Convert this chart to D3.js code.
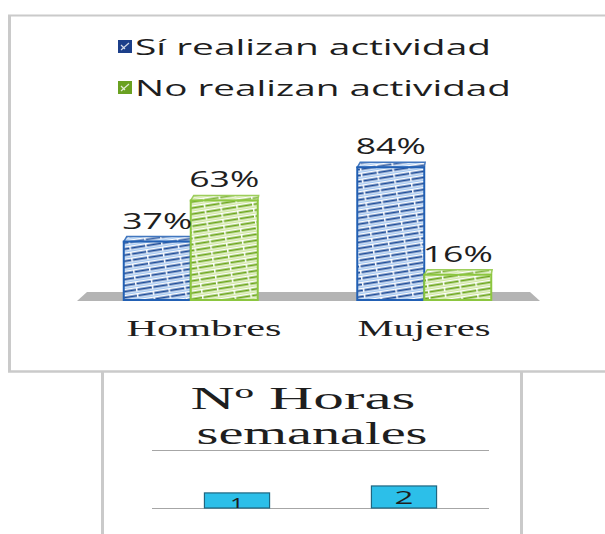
<!DOCTYPE html>
<html>
<head>
<meta charset="utf-8">
<script src="https://cdn.jsdelivr.net/npm/d3@7"></script>
<style>
  html, body { margin: 0; padding: 0; background: #fff; }
  svg { display: block; }
</style>
</head>
<body>
<svg id="chart" width="605" height="534"></svg>
<script>
// ---- data ----
const categories = ["Hombres", "Mujeres"];
const seriesNames = ["Sí realizan actividad", "No realizan actividad"];
const siValues = [37, 84];
const noValues = [63, 16];
const horasTitle = ["Nº Horas", "semanales"];
const horasCategories = ["1", "2"];
const horasValues = [0.26, 0.38];

const svg = d3.select("#chart");
const defs = svg.append("defs");

function makePattern(id, dark, light) {
  const p = defs.append("pattern").attr("id", id)
    .attr("patternUnits", "userSpaceOnUse").attr("width", 16).attr("height", 6)
    .attr("patternTransform", "rotate(-9)");
  p.append("rect").attr("width", 16).attr("height", 6).attr("fill", "#fff");
  p.append("line").attr("x1", 0).attr("x2", 16).attr("y1", 1.5).attr("y2", 1.5)
    .attr("stroke", dark).attr("stroke-width", 1.9).attr("stroke-dasharray", "9,1.5");
  p.append("line").attr("x1", 0).attr("x2", 16).attr("y1", 4.2).attr("y2", 4.2)
    .attr("stroke", light).attr("stroke-width", 1.2);
}
makePattern("patBlue", "#1a4a98", "#8fbbef");
makePattern("patGreen", "#6aa517", "#c6e38a");

const colors = {
  "Sí realizan actividad": { stroke: "#2260b4", pat: "url(#patBlue)", sq: "#1c3f8a" },
  "No realizan actividad": { stroke: "#8cc63f", pat: "url(#patGreen)", sq: "#6aa121" }
};

function stretchedText(g, txt, x, y, len, size, family, anchor) {
  const t = g.append("text").attr("x", x).attr("y", y)
    .attr("font-family", family).attr("font-size", size)
    .attr("fill", "#1e1e1e").attr("text-anchor", anchor || "start")
    .text(txt);
  if (len) t.attr("textLength", len).attr("lengthAdjust", "spacingAndGlyphs");
  return t;
}

// ---- frames ----
const frame = svg.append("g").attr("stroke", "#cacaca").attr("fill", "none");
frame.append("line").attr("x1", 8).attr("x2", 605).attr("y1", 15.5).attr("y2", 15.5).attr("stroke-width", 2);
frame.append("line").attr("x1", 9.5).attr("x2", 9.5).attr("y1", 15).attr("y2", 372).attr("stroke-width", 3);
frame.append("line").attr("x1", 8).attr("x2", 605).attr("y1", 371.5).attr("y2", 371.5).attr("stroke-width", 2.5);
frame.append("line").attr("x1", 102.5).attr("x2", 102.5).attr("y1", 372).attr("y2", 534).attr("stroke-width", 3);
frame.append("line").attr("x1", 521.5).attr("x2", 521.5).attr("y1", 372).attr("y2", 534).attr("stroke-width", 3);

// ---- legend ----
const legend = svg.append("g");
const legendRows = [{ y: 47, len: 356 }, { y: 88, len: 376 }];
seriesNames.forEach((s, i) => {
  const r = legendRows[i];
  legend.append("rect").attr("x", 118).attr("y", r.y - 7).attr("width", 14).attr("height", 13)
    .attr("fill", colors[s].sq);
  legend.append("path")
    .attr("d", `M121,${r.y + 3} L129,${r.y - 4} M121,${r.y - 2} L125,${r.y + 2}`)
    .attr("stroke", "#fff").attr("stroke-width", 1.2).attr("opacity", 0.8);
  stretchedText(legend, s, 135, r.y + 8, r.len, 22, "'Open Sans', sans-serif");
});

// ---- main bar chart ----
const baseY = 300;
const x0 = d3.scaleBand().domain(categories).range([74, 541]).padding(0);
const groupW = 134;
const x1 = d3.scaleBand().domain(seriesNames).range([0, groupW]).padding(0);
const y = d3.scaleLinear().domain([0, 100]).range([baseY, 142]);

svg.append("polygon")
  .attr("points", [[87, 292], [530, 292], [540, 301], [77, 301]].map(p => p.join(",")).join(" "))
  .attr("fill", "#b4b4b4");

const barData = [];
categories.forEach((c, ci) => {
  barData.push({ cat: c, s: seriesNames[0], v: siValues[ci] });
  barData.push({ cat: c, s: seriesNames[1], v: noValues[ci] });
});

const bars = svg.append("g");
const dx = 3, dy = 5;
barData.forEach(d => {
  const bx = x0(d.cat) + (x0.bandwidth() - groupW) / 2 + x1(d.s);
  const bw = x1.bandwidth();
  const top = y(d.v);
  const c = colors[d.s];
  bars.append("polygon")
    .attr("points", [[bx, top], [bx + dx, top - dy], [bx + bw + dx * 0.3, top - dy], [bx + bw, top]].map(p => p.join(",")).join(" "))
    .attr("fill", c.pat).attr("stroke", c.stroke).attr("stroke-width", 1.5).attr("opacity", 0.85);
  bars.append("rect").attr("x", bx).attr("y", top).attr("width", bw).attr("height", baseY - top)
    .attr("fill", c.pat).attr("stroke", c.stroke).attr("stroke-width", 2);
  d.cx = bx + bw / 2; d.top = top - dy;
});

barData.forEach(d => {
  stretchedText(bars, d.v + "%", d.cx, d.top - 8, 70, 21, "'Open Sans', sans-serif", "middle");
});

const catLens = [155, 133];
const catX = [204, 424];
categories.forEach((c, i) => {
  stretchedText(svg, c, catX[i], 336, catLens[i], 24, "'Liberation Serif', 'Times New Roman', serif", "middle");
});

// ---- second chart ----
const g2 = svg.append("g");
const hx = d3.scaleBand().domain(horasCategories).range([152, 489]).paddingInner(0.61).paddingOuter(0.314);
const hy = d3.scaleLinear().domain([0, 1]).range([508, 450]);

const serif = "'Liberation Serif', 'Times New Roman', serif";
const title = g2.append("text")
  .attr("font-family", serif).attr("font-size", 31).attr("fill", "#1e1e1e")
  .attr("text-anchor", "middle");
const titlePos = [{ x: 303, y: 409, len: 225 }, { x: 312, y: 444, len: 231 }];
horasTitle.forEach((line, i) => {
  title.append("tspan").attr("x", titlePos[i].x).attr("y", titlePos[i].y)
    .attr("textLength", titlePos[i].len).attr("lengthAdjust", "spacingAndGlyphs")
    .text(line);
});

g2.append("g").selectAll("line").data(hy.ticks(1)).join("line")
  .attr("x1", 152).attr("x2", 489).attr("y1", d => Math.round(hy(d)) + 0.5).attr("y2", d => Math.round(hy(d)) + 0.5)
  .attr("stroke", "#a6a6a6").attr("stroke-width", 1);

defs.append("clipPath").attr("id", "clipH").append("rect")
  .attr("x", 0).attr("y", 0).attr("width", 605).attr("height", 508);

horasCategories.forEach((c, i) => {
  const bx = hx(c), bw = hx.bandwidth(), top = hy(horasValues[i]);
  g2.append("rect").attr("x", bx).attr("y", top).attr("width", bw).attr("height", hy(0) - top)
    .attr("fill", "#2cbfe9").attr("stroke", "#1f6680").attr("stroke-width", 1.2);
  stretchedText(g2, c, bx + bw / 2, top + 18, c === "1" ? 14 : 19, 19, "'Open Sans', sans-serif", "middle")
    .attr("clip-path", "url(#clipH)");
});
</script>
</body>
</html>
